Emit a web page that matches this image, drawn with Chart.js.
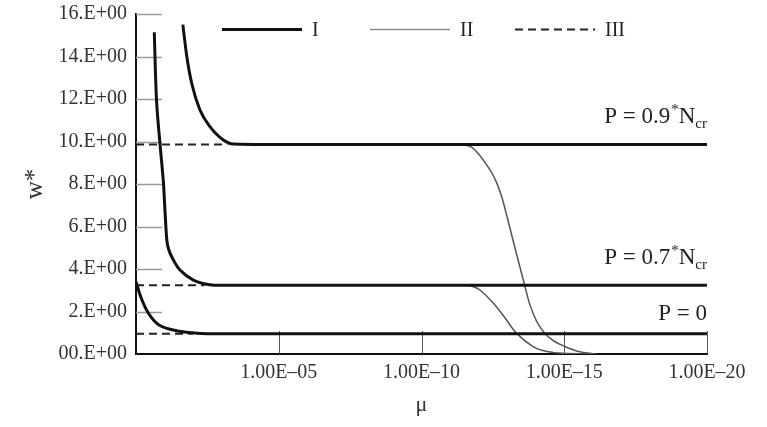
<!DOCTYPE html>
<html>
<head>
<meta charset="utf-8">
<script src="https://cdn.jsdelivr.net/npm/chart.js@4.4.1/dist/chart.umd.min.js"></script>
<style>
	html, body { margin: 0; padding: 0; background: #fff; }
	#wrap { width: 767px; height: 427px; }
</style>
</head>
<body>
<div id="wrap"><canvas id="chart" width="767" height="427"></canvas></div>
<script>
// axis ticks
var yTicks = [0, 2, 4, 6, 8, 10, 12, 14, 16];
var xTicks = [1e-5, 1e-10, 1e-15, 1e-20];

// flat w* levels and their labels
var levelValues = [9.86, 3.24, 0.95];
var levelNames = ['0.9', '0.7', '0'];

// I : thick solid curves
var muI09 = [2.29e-2, 1.66e-2, 1.12e-2, 5.75e-3, 2.57e-3, 8.71e-4, 3.89e-4, 3.16e-5, 1e-20];
var wI09  = [15.5, 14.0, 12.74, 11.48, 10.7, 10.07, 9.88, 9.86, 9.86];
var muI07 = [0.229, 0.191, 0.145, 0.110, 0.0955, 0.0832, 0.0724, 0.0562, 0.0288, 9.77e-3, 2.57e-3, 6.31e-4, 1e-20];
var wI07  = [15.14, 11.95, 9.91, 8.1, 6.62, 5.36, 4.94, 4.58, 3.95, 3.48, 3.26, 3.24, 3.24];
var muI0  = [1, 0.708, 0.427, 0.186, 0.049, 7.41e-3, 1e-3, 1e-20];
var wI0   = [3.4, 2.75, 2.07, 1.44, 1.13, 0.98, 0.95, 0.95];

// II : thin grey curves
var muII09 = [3.55e-12, 1.78e-12, 8.91e-13, 3.98e-13, 2.4e-13, 1.55e-13, 1.05e-13, 6.17e-14, 3.55e-14, 2.34e-14, 1.58e-14, 9.33e-15, 4.68e-15, 2.24e-15, 1.07e-15, 3.16e-16, 7.94e-17];
var wII09  = [9.86, 9.74, 9.33, 8.66, 8.1, 7.4, 6.55, 5.33, 4.08, 3.14, 2.3, 1.55, 0.95, 0.6, 0.38, 0.12, 0];
var muII07 = [2.63e-12, 1.58e-12, 8.91e-13, 3.02e-13, 1.05e-13, 4.68e-14, 1.2e-14, 3.98e-15, 1.07e-15, 1e-16];
var wII07  = [3.24, 3.18, 3.01, 2.39, 1.6, 0.97, 0.34, 0.12, 0.03, 0];

// III : dashed
var muIII09 = [1, 6.3e-4];
var wIII09  = [9.86, 9.86];
var muIII07 = [1, 4e-3];
var wIII07  = [3.24, 3.24];
var muIII0  = [1, 1e-2];
var wIII0   = [0.95, 0.95];

var SERIF = "'Liberation Serif', 'Times New Roman', serif";

function points(mu, w) {
	var out = [];
	for (var i = 0; i < mu.length; i++) {
		out.push({x: mu[i], y: w[i]});
	}
	return out;
}

// monotone keeps the flat parts flat, tension is smoother on the near vertical drop
function styleI(label, mu, w, monotone) {
	var ds = {label: label, group: 'I', data: points(mu, w), borderColor: '#111', borderWidth: 3,
		pointRadius: 0, order: 0};
	if (monotone) ds.cubicInterpolationMode = 'monotone';
	else ds.tension = 0.35;
	return ds;
}
function styleII(label, mu, w) {
	return {label: label, group: 'II', data: points(mu, w), borderColor: '#555', borderWidth: 1.5,
		pointRadius: 0, tension: 0.35, order: 1};
}
function styleIII(label, mu, w) {
	return {label: label, group: 'III', data: points(mu, w), borderColor: '#222', borderWidth: 2,
		borderDash: [8, 5], pointRadius: 0, order: 2};
}

const innerTicks = {
	id: 'innerTicks',
	beforeDatasetsDraw(chart) {
		const {ctx, chartArea: {left, bottom}, scales: {x, y}} = chart;
		ctx.save();
		ctx.strokeStyle = '#9a9a9a';
		ctx.lineWidth = 1.5;
		yTicks.forEach(v => {
			if (v === 0) return;
			const py = Math.round(y.getPixelForValue(v)) + 0.5;
			ctx.beginPath();
			ctx.moveTo(left, py);
			ctx.lineTo(left + 26, py);
			ctx.stroke();
		});
		ctx.strokeStyle = '#555';
		ctx.lineWidth = 1;
		xTicks.forEach(v => {
			const px = Math.round(x.getPixelForValue(v)) + 0.5;
			ctx.beginPath();
			ctx.moveTo(px, bottom);
			ctx.lineTo(px, bottom - 23);
			ctx.stroke();
		});
		ctx.restore();
	}
};

const levelLabels = {
	id: 'levelLabels',
	afterDatasetsDraw(chart) {
		const {ctx, chartArea: {right}, scales: {y}} = chart;
		ctx.save();
		ctx.fillStyle = '#222';
		ctx.textBaseline = 'alphabetic';
		levelValues.forEach((v, i) => {
			const name = levelNames[i];
			const big = '23px ' + SERIF, small = '15px ' + SERIF;
			const main = 'P = ' + name;
			const base = y.getPixelForValue(v) - (name === '0' ? 14 : 21);
			if (name === '0') {
				ctx.font = big;
				ctx.textAlign = 'right';
				ctx.fillText(main, right, base);
				return;
			}
			ctx.textAlign = 'left';
			ctx.font = big;
			const wMain = ctx.measureText(main).width;
			const wN = ctx.measureText('N').width;
			ctx.font = small;
			const wStar = ctx.measureText('*').width + 1;
			const wSub = ctx.measureText('cr').width;
			let px = right - (wMain + wStar + wN + wSub);
			ctx.font = big;
			ctx.fillText(main, px, base);
			px += wMain;
			ctx.font = small;
			ctx.fillText('*', px + 1, base - 9);
			px += wStar;
			ctx.font = big;
			ctx.fillText('N', px, base);
			px += wN;
			ctx.font = small;
			ctx.fillText('cr', px, base + 5);
		});
		ctx.restore();
	}
};

const groupLegend = {
	id: 'groupLegend',
	afterDraw(chart) {
		const {ctx, chartArea: {left, top}} = chart;
		const groups = ['I', 'II', 'III'];
		const starts = [86, 234, 379];
		ctx.save();
		ctx.font = '20px ' + SERIF;
		ctx.textBaseline = 'middle';
		ctx.fillStyle = '#222';
		groups.forEach((g, i) => {
			const ds = chart.data.datasets.find(d => d.group === g);
			const x0 = left + starts[i], yy = top + 15.5;
			ctx.strokeStyle = g === 'II' ? '#8a8a8a' : ds.borderColor;
			ctx.lineWidth = ds.borderWidth;
			ctx.setLineDash(ds.borderDash || []);
			ctx.beginPath();
			ctx.moveTo(x0, yy);
			ctx.lineTo(x0 + 80, yy);
			ctx.stroke();
			ctx.fillText(g, x0 + 90, yy + 1);
		});
		ctx.restore();
	}
};

var ctx = document.getElementById('chart').getContext('2d');
var chart = new Chart(ctx, {
	type: 'line',
	data: {
		datasets: [
			styleI('I, P = 0.9', muI09, wI09, true),
			styleI('I, P = 0.7', muI07, wI07, false),
			styleI('I, P = 0', muI0, wI0, true),
			styleII('II, P = 0.9', muII09, wII09),
			styleII('II, P = 0.7', muII07, wII07),
			styleIII('III, P = 0.9', muIII09, wIII09),
			styleIII('III, P = 0.7', muIII07, wIII07),
			styleIII('III, P = 0', muIII0, wIII0),
		]
	},
	options: {
		responsive: false,
		animation: false,
		layout: {padding: {top: 14, right: 60, left: 0, bottom: 0}},
		scales: {
			x: {
				type: 'logarithmic',
				reverse: true,
				min: 1e-20,
				max: 1,
				afterBuildTicks: scale => { scale.ticks = xTicks.map(v => ({value: v})); },
				afterFit: scale => { scale.height = 73; },
				grid: {display: false, drawTicks: false},
				border: {display: true, color: '#111', width: 2},
				ticks: {
					autoSkip: false,
					maxRotation: 0,
					padding: 7,
					color: '#333',
					font: {family: SERIF, size: 20},
					callback: v => '1.00E\u2013' + String(Math.round(-Math.log10(v))).padStart(2, '0')
				},
				title: {
					display: true,
					text: '\u03bc',
					color: '#333',
					font: {family: SERIF, size: 22},
					padding: {top: 0, bottom: 9}
				}
			},
			y: {
				min: 0,
				max: 16,
				afterBuildTicks: scale => { scale.ticks = yTicks.map(v => ({value: v})); },
				afterFit: scale => {
					scale.width = 136;
					scale.paddingTop = 0;
					scale.paddingBottom = 0;
				},
				grid: {display: false, drawTicks: false},
				border: {display: true, color: '#111', width: 2},
				ticks: {
					padding: 9,
					color: '#333',
					font: {family: SERIF, size: 20},
					callback: v => (v === 0 ? '00' : v) + '.E+00'
				},
				title: {
					display: true,
					text: 'w*',
					color: '#333',
					font: {family: SERIF, size: 25},
					padding: {top: 20, bottom: 0}
				}
			}
		},
		plugins: {
			legend: {display: false},
			tooltip: {enabled: false}
		}
	},
	plugins: [innerTicks, levelLabels, groupLegend]
});
</script>
</body>
</html>
